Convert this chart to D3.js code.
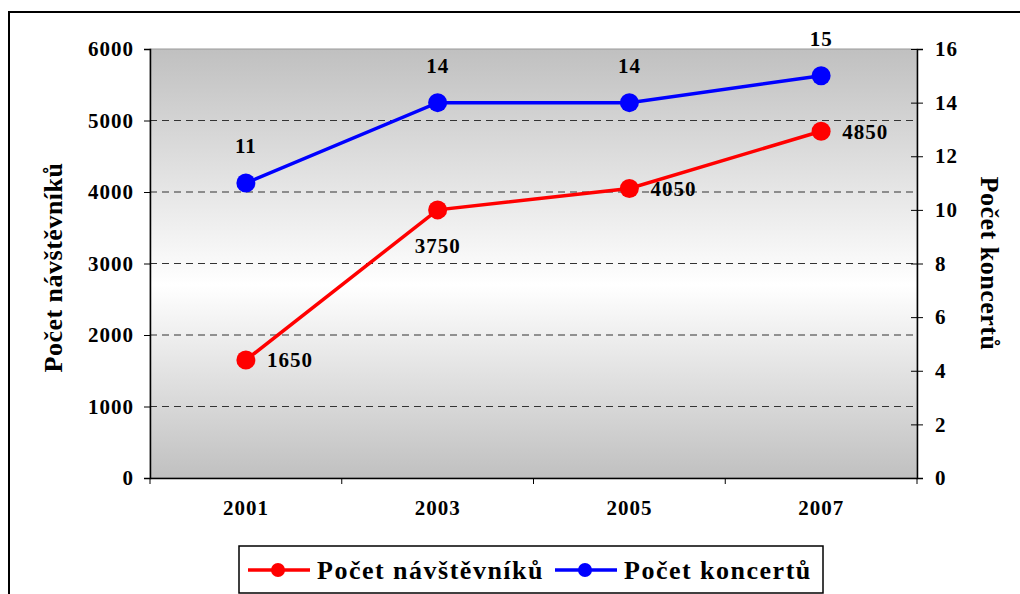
<html>
<head>
<script src="https://cdn.jsdelivr.net/npm/d3@7"></script>
<style>
  body { margin: 0; background: #fff; }
</style>
</head>
<body>
<script>
// chart data
const years = ['2001', '2003', '2005', '2007'];
const visitors = [1650, 3750, 4050, 4850];
const concerts = [11, 14, 14, 15];
const leftTicks = [0, 1000, 2000, 3000, 4000, 5000, 6000];
const rightTicks = [0, 2, 4, 6, 8, 10, 12, 14, 16];
const seriesNames = ['Počet návštěvníků', 'Počet koncertů'];
const yLeftTitle = 'Počet návštěvníků';
const yRightTitle = 'Počet koncertů';

const FONT = '"Liberation Serif", "DejaVu Serif", serif';
const width = 1020, height = 594;
const plot = {left: 150, right: 917, top: 49, bottom: 478};

const svg = d3.select('body').append('svg')
    .attr('width', width)
    .attr('height', height)
    .style('font-family', FONT)
    .style('font-weight', 'bold');

// outer frame
svg.append('rect')
    .attr('x', 9).attr('y', 12)
    .attr('width', width + 10).attr('height', height + 10)
    .attr('fill', 'none').attr('stroke', '#000').attr('stroke-width', 2);

const defs = svg.append('defs');
const grad = defs.append('linearGradient')
    .attr('id', 'bg').attr('x1', 0).attr('y1', 0).attr('x2', 0).attr('y2', 1);
grad.append('stop').attr('offset', '0%').attr('stop-color', '#c0c0c0');
grad.append('stop').attr('offset', '55%').attr('stop-color', '#ffffff');
grad.append('stop').attr('offset', '100%').attr('stop-color', '#c0c0c0');

const x = d3.scaleBand().domain(years).range([plot.left, plot.right]);
const yL = d3.scaleLinear().domain([0, 6000]).range([plot.bottom, plot.top]);
const yR = d3.scaleLinear().domain([0, 16]).range([plot.bottom, plot.top]);

svg.append('rect')
    .attr('x', plot.left).attr('y', plot.top)
    .attr('width', plot.right - plot.left).attr('height', plot.bottom - plot.top)
    .attr('fill', 'url(#bg)')
    .attr('stroke', '#999').attr('stroke-width', 1);

// gridlines
svg.append('g').selectAll('line')
    .data(leftTicks.filter(d => d > 0 && d < 6000))
    .join('line')
    .attr('x1', plot.left).attr('x2', plot.right)
    .attr('y1', d => yL(d)).attr('y2', d => yL(d))
    .attr('stroke', '#333').attr('stroke-width', 1)
    .attr('stroke-dasharray', '7,5');

// left axis
const axL = svg.append('g')
    .attr('transform', 'translate(' + plot.left + ',0)')
    .call(d3.axisLeft(yL).tickValues(leftTicks).tickSize(6).tickPadding(10).tickFormat(d => d));
// right axis
const axR = svg.append('g')
    .attr('transform', 'translate(' + plot.right + ',0)')
    .call(d3.axisRight(yR).tickValues(rightTicks).tickSize(6).tickPadding(12));
axR.selectAll('.tick line').attr('x1', -6);
// bottom axis with ticks between categories
const axB = svg.append('g')
    .attr('transform', 'translate(0,' + plot.bottom + ')')
    .call(d3.axisBottom(x).tickSize(0).tickPadding(22));
axB.selectAll('.tick').each(function() {
  d3.select(this).append('line')
      .attr('x1', -x.bandwidth() / 2).attr('x2', -x.bandwidth() / 2)
      .attr('y1', 0).attr('y2', 6).attr('stroke', '#000');
});
axB.append('line').attr('x1', plot.right).attr('x2', plot.right)
    .attr('y1', 0).attr('y2', 6).attr('stroke', '#000');

[axL, axR, axB].forEach(a => {
  a.attr('font-family', null).attr('font-size', null);
  a.selectAll('.domain').attr('stroke', '#000').attr('stroke-width', 1.5);
  a.selectAll('.tick line').attr('stroke', '#000');
  a.selectAll('text').attr('fill', '#000')
      .style('font-size', '21px').style('letter-spacing', '1px');
});

// axis titles
svg.append('text')
    .attr('transform', 'translate(53,' + (plot.top + plot.bottom + 8) / 2 + ') rotate(-90)')
    .attr('text-anchor', 'middle').attr('dy', '0.35em')
    .style('font-size', '26px').style('letter-spacing', '0.5px')
    .text(yLeftTitle);
svg.append('text')
    .attr('transform', 'translate(990,' + (plot.top + plot.bottom) / 2 + ') rotate(90)')
    .attr('text-anchor', 'middle').attr('dy', '0.35em')
    .style('font-size', '26px').style('letter-spacing', '0.5px')
    .text(yRightTitle);

const cx = d => x(d) + x.bandwidth() / 2;

// visitors series
const redData = years.map((y, i) => ({year: y, v: visitors[i]}));
svg.append('path').datum(redData)
    .attr('fill', 'none').attr('stroke', '#ff0000').attr('stroke-width', 3.5)
    .attr('d', d3.line().x(d => cx(d.year)).y(d => yL(d.v)));
svg.append('g').selectAll('circle').data(redData).join('circle')
    .attr('cx', d => cx(d.year)).attr('cy', d => yL(d.v)).attr('r', 9.5)
    .attr('fill', '#ff0000');
svg.append('g').selectAll('text').data(redData).join('text')
    .attr('x', (d, i) => i === 1 ? cx(d.year) : cx(d.year) + 21)
    .attr('y', (d, i) => i === 1 ? yL(d.v) + 36 : yL(d.v))
    .attr('dy', '0.35em')
    .attr('text-anchor', (d, i) => i === 1 ? 'middle' : 'start')
    .style('font-size', '21px').style('letter-spacing', '1px')
    .text(d => d.v);

// concerts series
const blueData = years.map((y, i) => ({year: y, v: concerts[i]}));
svg.append('path').datum(blueData)
    .attr('fill', 'none').attr('stroke', '#0000ff').attr('stroke-width', 3.5)
    .attr('d', d3.line().x(d => cx(d.year)).y(d => yR(d.v)));
svg.append('g').selectAll('circle').data(blueData).join('circle')
    .attr('cx', d => cx(d.year)).attr('cy', d => yR(d.v)).attr('r', 9.5)
    .attr('fill', '#0000ff');
svg.append('g').selectAll('text').data(blueData).join('text')
    .attr('x', d => cx(d.year))
    .attr('y', d => yR(d.v) - 37)
    .attr('dy', '0.35em')
    .attr('text-anchor', 'middle')
    .style('font-size', '21px').style('letter-spacing', '1px')
    .text(d => d.v);

// legend
const legend = svg.append('g');
legend.append('rect')
    .attr('x', 239).attr('y', 546).attr('width', 584).attr('height', 47)
    .attr('fill', '#fff').attr('stroke', '#000').attr('stroke-width', 1.5);
const legendItems = [
  {name: seriesNames[0], color: '#ff0000', x: 248},
  {name: seriesNames[1], color: '#0000ff', x: 555}
];
legendItems.forEach(it => {
  legend.append('line')
      .attr('x1', it.x).attr('x2', it.x + 62).attr('y1', 570).attr('y2', 570)
      .attr('stroke', it.color).attr('stroke-width', 3.5);
  legend.append('circle')
      .attr('cx', it.x + 30).attr('cy', 570).attr('r', 7)
      .attr('fill', it.color);
  legend.append('text')
      .attr('x', it.x + 69).attr('y', 570).attr('dy', '0.35em')
      .style('font-size', '26px').style('letter-spacing', '1.5px')
      .text(it.name);
});
</script>
</body>
</html>
